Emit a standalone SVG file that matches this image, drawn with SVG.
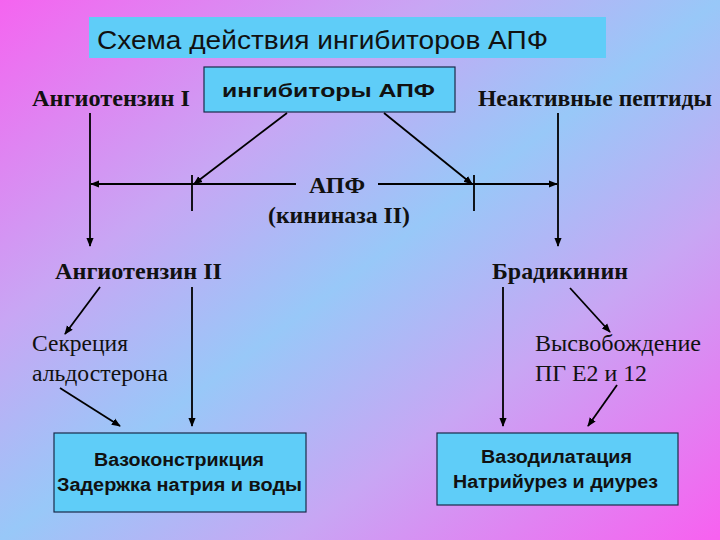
<svg xmlns="http://www.w3.org/2000/svg" width="720" height="540" viewBox="0 0 720 540">
<defs>
<linearGradient id="bg" x1="0" y1="0" x2="1" y2="1">
<stop offset="0" stop-color="#f564f0"/>
<stop offset="0.3" stop-color="#c8a6f4"/>
<stop offset="0.5" stop-color="#98c8f8"/>
<stop offset="0.7" stop-color="#c8a6f4"/>
<stop offset="1" stop-color="#f860f0"/>
</linearGradient>
<marker id="ah" viewBox="0 0 10 10" refX="9" refY="5" markerWidth="5" markerHeight="5" orient="auto"><path d="M0,1 L10,5 L0,9 z" fill="#000"/></marker>
<style>
.l{stroke:#000;stroke-width:1.8;fill:none}
.a{stroke:#000;stroke-width:1.8;fill:none;marker-end:url(#ah)}
.box{fill:#5fcdf8;stroke:#1a2a4a;stroke-width:1.2}
.s{font-family:"Liberation Serif",serif;font-size:23px;fill:#111}
.sb{font-family:"Liberation Serif",serif;font-size:23px;font-weight:bold;fill:#111}
.h{font-family:"Liberation Sans",sans-serif;font-size:18px;font-weight:bold;fill:#111}
</style>
</defs>
<rect width="720" height="540" fill="url(#bg)"/>
<g id="title"><rect x="89" y="17" width="517" height="41" fill="#5fcdf8"/>
<text x="97" y="49" font-family="Liberation Sans,sans-serif" font-size="26" fill="#111" textLength="451" lengthAdjust="spacingAndGlyphs">Схема действия ингибиторов АПФ</text></g>
<g id="inhib"><rect class="box" x="204" y="67" width="251" height="45"/><text class="h" x="222" y="97" textLength="213" lengthAdjust="spacingAndGlyphs">ингибиторы  АПФ</text></g>
<g id="ang1"><text class="sb" x="32" y="106" textLength="158" lengthAdjust="spacingAndGlyphs">Ангиотензин I</text></g>
<g id="inact"><text class="sb" x="478" y="106" textLength="234" lengthAdjust="spacingAndGlyphs">Неактивные пептиды</text></g>
<g id="apf"><text class="sb" x="309" y="193" textLength="56" lengthAdjust="spacingAndGlyphs">АПФ</text><text class="sb" x="268" y="223" textLength="142" lengthAdjust="spacingAndGlyphs">(кининаза II)</text></g>
<g id="ang2"><text class="sb" x="55" y="279" textLength="167" lengthAdjust="spacingAndGlyphs">Ангиотензин II</text></g>
<g id="brad"><text class="sb" x="492" y="279" textLength="136" lengthAdjust="spacingAndGlyphs">Брадикинин</text></g>
<g id="secr"><text class="s" x="32" y="351" textLength="96" lengthAdjust="spacingAndGlyphs">Секреция</text><text class="s" x="32" y="381" textLength="136" lengthAdjust="spacingAndGlyphs">альдостерона</text></g>
<g id="pg"><text class="s" x="535" y="351" textLength="166" lengthAdjust="spacingAndGlyphs">Высвобождение</text><text class="s" x="535" y="381" textLength="112" lengthAdjust="spacingAndGlyphs">ПГ Е2 и 12</text></g>
<g id="vc"><rect class="box" x="54" y="433" width="252" height="79"/><text class="h" x="94" y="466" textLength="170" lengthAdjust="spacingAndGlyphs">Вазоконстрикция</text><text class="h" x="57" y="491" textLength="245" lengthAdjust="spacingAndGlyphs">Задержка натрия и воды</text></g>
<g id="vd"><rect class="box" x="437" y="433" width="241" height="72"/><text class="h" x="481" y="463" textLength="151" lengthAdjust="spacingAndGlyphs">Вазодилатация</text><text class="h" x="453" y="488" textLength="205" lengthAdjust="spacingAndGlyphs">Натрийурез и диурез</text></g>
<g id="connectors">
<line class="a" x1="296" y1="184" x2="91" y2="184"/>
<line class="a" x1="378" y1="184" x2="557" y2="184"/>
<line class="l" x1="192" y1="175" x2="192" y2="211"/>
<line class="l" x1="474" y1="175" x2="474" y2="211"/>
<line class="a" x1="90" y1="113" x2="90" y2="246"/>
<line class="a" x1="558" y1="113" x2="558" y2="246"/>
<line class="a" x1="287" y1="113" x2="194" y2="184"/>
<line class="a" x1="384" y1="113" x2="472" y2="184"/>
<line class="a" x1="100" y1="287" x2="65" y2="334"/>
<line class="a" x1="192" y1="287" x2="192" y2="426"/>
<line class="a" x1="60" y1="388" x2="120" y2="426"/>
<line class="a" x1="503" y1="287" x2="503" y2="426"/>
<line class="a" x1="570" y1="288" x2="610" y2="332"/>
<line class="a" x1="617" y1="385" x2="588" y2="426"/>
</g>
</svg>
